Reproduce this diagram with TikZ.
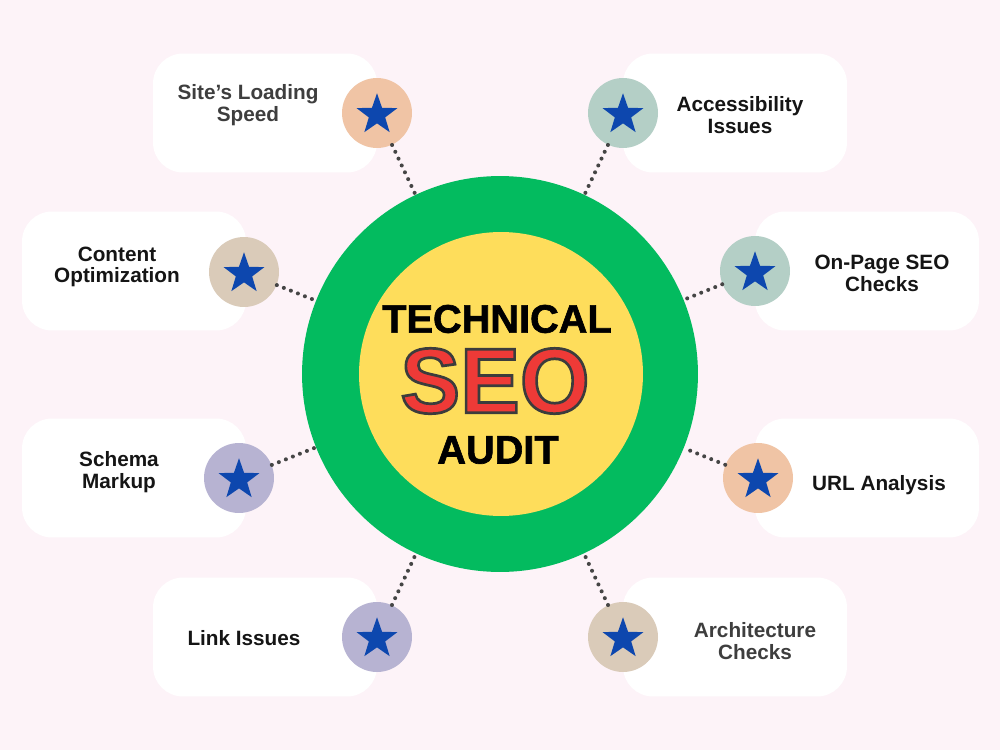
\documentclass[tikz,border=0pt]{standalone}
\usepackage{fontspec}
\setmainfont{Liberation Sans}
\newfontface\heavyfont[FakeBold=1.6]{Liberation Sans Bold}
\newfontface\seofont{Liberation Sans Bold}
\usetikzlibrary{shapes.geometric}
\definecolor{bg_pink}{HTML}{FDF3F8}
\definecolor{ring_green}{HTML}{03BB5F}
\definecolor{core_yellow}{HTML}{FEDD5B}
\definecolor{seo_red}{HTML}{EE3A37}
\definecolor{star_blue}{HTML}{0D47AE}
\definecolor{dot_gray}{HTML}{454545}
\definecolor{text_dark}{HTML}{151515}
\definecolor{text_gray}{HTML}{3E3E3E}
\definecolor{peach}{HTML}{F0C4A5}
\definecolor{sage}{HTML}{B4CFC6}
\definecolor{beige}{HTML}{DACBB9}
\definecolor{lavender}{HTML}{B7B3D2}
% outlined text: fill + stroke in dark grey
\newcommand{\outlined}[1]{\special{pdf:code 2 Tr 1.5 w 0.235 0.235 0.235 RG}#1\special{pdf:code 0 Tr}}

\begin{document}
\begin{tikzpicture}[x=0.02cm, y=-0.02cm,
    card/.style={fill=white, rounded corners=0.6cm, minimum width=4.48cm, minimum height=2.38cm},
    badge/.style={circle, minimum size=1.4cm, inner sep=0pt},
    starmark/.style={star, star points=5, star point ratio=2.5, fill=star_blue, minimum size=0.86cm, inner sep=0pt},
    cardtext/.style={font=\bfseries\fontsize{11.8}{12.4}\selectfont, align=center, text=text_dark, inner sep=0pt},
    dots/.style={draw=dot_gray, line width=2.3pt, line cap=round, dash pattern=on 0pt off 4.3pt},
    bigword/.style={font=\heavyfont\fontsize{22.6}{22.6}\selectfont, inner sep=0pt}]

  % Background
  \fill[bg_pink] (0,0) rectangle (1000,750);

  % Centre rings
  \node[circle, fill=ring_green, minimum size=7.92cm, inner sep=0pt] (ring) at (500,374) {};
  \node[circle, fill=core_yellow, minimum size=5.68cm, inner sep=0pt] (core) at (501,374) {};

  % Title (SEO first, before any fake bold font)
  \node[inner sep=0pt, text=seo_red, font=\seofont\fontsize{51}{51}\selectfont] (seo) at (495,381) {\scalebox{1}[1.03]{\outlined{SEO}}};
  \node[bigword] (technical) at (497,319) {TECHNICAL};
  \node[bigword] (audit) at (498,450) {AUDIT};

  % Cards
  \node[card] (card1) at (265,113) {};
  \node[card] (card2) at (735,113) {};
  \node[card] (card3) at (134,271) {};
  \node[card] (card4) at (867,271) {};
  \node[card] (card5) at (134,478) {};
  \node[card] (card6) at (867,478) {};
  \node[card] (card7) at (265,637) {};
  \node[card] (card8) at (735,637) {};

  % Card texts
  \node[cardtext, text=text_gray] (t1) at (248,105) {Site’s Loading\\Speed};
  \node[cardtext] (t2) at (740,115) {Accessibility\\Issues};
  \node[cardtext] (t3) at (117,267) {Content\\Optimization};
  \node[cardtext] (t4) at (882,273) {On-Page SEO\\Checks};
  \node[cardtext] (t5) at (119,472) {Schema\\Markup};
  \node[cardtext] (t6) at (879,485) {URL Analysis};
  \node[cardtext] (t7) at (244,638) {Link Issues};
  \node[cardtext, text=text_gray] (t8) at (755,641) {Architecture\\Checks};

  % Badges with stars
  \node[badge, fill=peach] (b1) at (377,113) {};
  \node[badge, fill=sage] (b2) at (623,113) {};
  \node[badge, fill=beige] (b3) at (244,272) {};
  \node[badge, fill=sage] (b4) at (755,271) {};
  \node[badge, fill=lavender] (b5) at (239,478) {};
  \node[badge, fill=peach] (b6) at (758,478) {};
  \node[badge, fill=lavender] (b7) at (377,637) {};
  \node[badge, fill=beige] (b8) at (623,637) {};
  \foreach \i in {1,...,8}
    \node[starmark] (s\i) at ([yshift=-1pt]b\i.center) {};

  % Dotted links to the ring
  \foreach \i in {1,...,8}
    \draw[dots] (b\i) -- (ring);

\end{tikzpicture}
\end{document}
